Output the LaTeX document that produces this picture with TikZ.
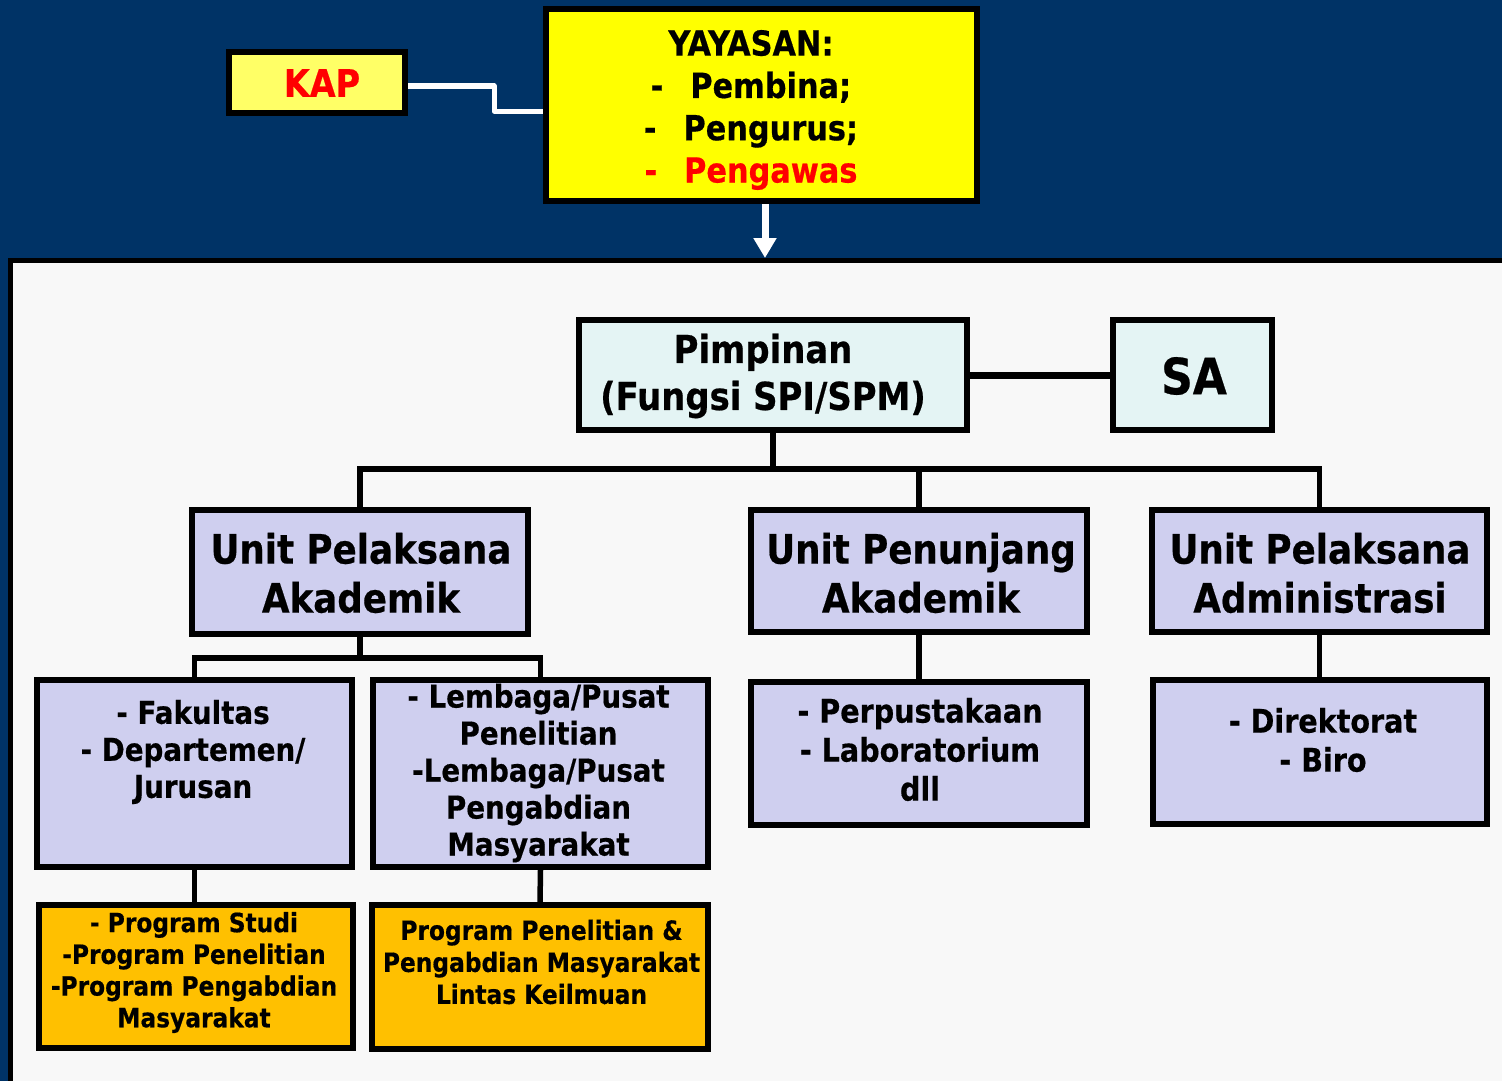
\documentclass[tikz,border=0pt]{standalone}
\usepackage{fontspec}
\newfontfamily\df{DejaVu Sans}[FakeStretch=0.88,FakeBold=0.5]
\usetikzlibrary{arrows.meta}
\definecolor{navy}{RGB}{0,51,102}
\definecolor{panelgray}{RGB}{248,248,248}
\definecolor{kapyellow}{RGB}{255,255,102}
\definecolor{yayyellow}{RGB}{255,255,0}
\definecolor{lightcyan}{RGB}{228,244,244}
\definecolor{lavender}{RGB}{207,207,239}
\definecolor{orangebox}{RGB}{255,192,0}
\definecolor{redtext}{RGB}{255,0,0}
\newcommand\fsz[2]{\fontsize{#1}{#2}\selectfont}
\begin{document}
\begin{tikzpicture}[x=1pt,y=-1pt,
  box/.style={draw=black, line width=6pt, inner sep=0pt},
  txt/.style={inner sep=0pt, align=center, text=black},
  conn/.style={draw=black, line width=5.5pt},
  wconn/.style={draw=white, line width=5pt, line join=round}]
\useasboundingbox (0,0) rectangle (1502,1081);
\clip (0,0) rectangle (1502,1081);
\fill[navy] (0,0) rectangle (1502,1081);
% panel
\node[draw=black, fill=panelgray, line width=5pt, inner sep=0pt, anchor=north west,
      minimum width=1600pt, minimum height=900pt] (panel) at (8,258) {};
% boxes
\node[box, fill=kapyellow, minimum width=176pt, minimum height=61pt] (kap) at (317,82.5) {};
\node[box, fill=yayyellow, minimum width=431pt, minimum height=192pt] (yay) at (761.5,105) {};
\node[box, fill=lightcyan, minimum width=388pt, minimum height=110pt] (pimp) at (773,375) {};
\node[box, fill=lightcyan, minimum width=159pt, minimum height=110pt] (sa) at (1192.5,375) {};
\node[box, fill=lavender, minimum width=336pt, minimum height=124pt] (upa) at (360,572) {};
\node[box, fill=lavender, minimum width=336pt, minimum height=122pt] (upj) at (919,571) {};
\node[box, fill=lavender, minimum width=335pt, minimum height=122pt] (uad) at (1319.5,571) {};
\node[box, fill=lavender, minimum width=315pt, minimum height=187pt] (fak) at (194.5,773.5) {};
\node[box, fill=lavender, minimum width=335pt, minimum height=187pt] (lem) at (540.5,773.5) {};
\node[box, fill=lavender, minimum width=336pt, minimum height=143pt] (per) at (919,753.5) {};
\node[box, fill=lavender, minimum width=334pt, minimum height=144pt] (dir) at (1320,752) {};
\node[box, fill=orangebox, minimum width=314pt, minimum height=143pt] (ps) at (196,976.5) {};
\node[box, fill=orangebox, minimum width=336pt, minimum height=144pt] (ppm) at (540,977) {};
% texts
\node[txt, font=\df\bfseries\fsz{38}{44}, text=redtext] (kapT) at (322,83) {KAP};
\node[txt, font=\df\bfseries\fsz{34.5}{42.3}] (yayT) at (751,110)
  {YAYASAN:\\-\hspace{27pt}Pembina;\\-\hspace{27pt}Pengurus;\\\textcolor{redtext}{-\hspace{27pt}Pengawas}};
\node[txt, font=\df\bfseries\fsz{38.5}{47}] (pimpT) at (763,376) {Pimpinan\\(Fungsi SPI/SPM)};
\node[txt, font=\df\bfseries\fsz{50}{55}] (saT) at (1194,376) {SA};
\node[txt, font=\df\bfseries\fsz{40.5}{49}] (upaT) at (361,573) {Unit Pelaksana\\Akademik};
\node[txt, font=\df\bfseries\fsz{40.5}{49}] (upjT) at (921,573) {Unit Penunjang\\Akademik};
\node[txt, font=\df\bfseries\fsz{40.5}{49}] (uadT) at (1320,573) {Unit Pelaksana\\Administrasi};
\node[txt, font=\df\bfseries\fsz{31.5}{37}] (fakT) at (193,752) {- Fakultas\\- Departemen/\\Jurusan};
\node[txt, font=\df\bfseries\fsz{31.5}{37}] (lemT) at (538.5,773) {- Lembaga/Pusat\\Penelitian\\-Lembaga/Pusat\\Pengabdian\\Masyarakat};
\node[txt, font=\df\bfseries\fsz{32.5}{39}] (perT) at (920,749.5) {- Perpustakaan\\- Laboratorium\\dll};
\node[txt, font=\df\bfseries\fsz{32.5}{39}] (dirT) at (1323,740) {- Direktorat\\- Biro};
\node[txt, font=\df\bfseries\fsz{26.5}{31.7}] (psT) at (194,972.5) {- Program Studi\\-Program Penelitian\\-Program Pengabdian\\Masyarakat};
\node[txt, font=\df\bfseries\fsz{26.5}{32}] (ppmT) at (541.5,962) {Program Penelitian \&\\Pengabdian Masyarakat\\Lintas Keilmuan};
% connectors
\draw[wconn] ([yshift=-3.5pt]kap.east) -- ++(86,0) |- ([yshift=-6pt]yay.west);
\draw[white, line width=7pt, -{Triangle[width=22pt,length=20pt]}]
  ([xshift=3.5pt]yay.south) -- ([xshift=3.5pt]yay.south |- panel.north);
\draw[conn, line width=7pt] (pimp.east) -- (sa.west);
\coordinate (busA) at (773,469);
\draw[conn] (pimp.south) -- (busA);
\draw[conn] (upa.north) |- (uad.north |- busA) -- (uad.north);
\draw[conn] (upj.north) -- (upj.north |- busA);
\coordinate (busB) at (360,658);
\draw[conn] (upa.south) -- (busB);
\draw[conn] (fak.north) |- (lem.north |- busB) -- (lem.north);
\draw[conn] (fak.south) -- (ps.north -| fak.south);
\draw[conn] (lem.south) -- (ppm.north);
\draw[conn] (upj.south) -- (per.north);
\draw[conn] (uad.south) -- (dir.north -| uad.south);
\end{tikzpicture}
\end{document}
